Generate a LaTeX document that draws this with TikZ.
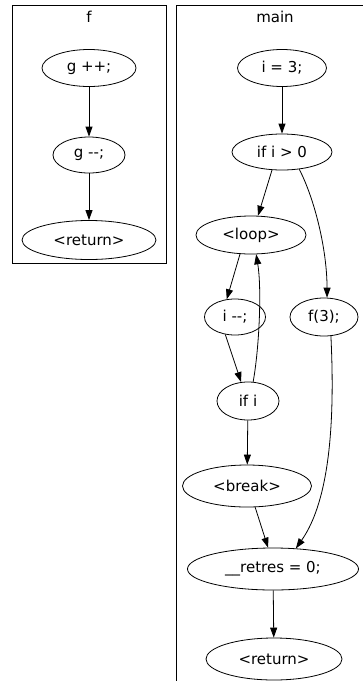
\documentclass[tikz,border=0pt]{standalone}
\usepackage{fontspec}
\setmainfont{DejaVu Sans}
\usetikzlibrary{shapes.geometric,arrows.meta}

\begin{document}
\begin{tikzpicture}[x=1pt,y=-1pt,font=\fontsize{15}{17}\selectfont]
		\tikzstyle{stmt}=[ellipse,draw=black,line width=0.8pt,inner sep=0pt]
		\tikzstyle{flow}=[-{Triangle[length=10pt,width=7pt]},line width=0.8pt]
		\tikzstyle{cluster}=[draw=black,line width=0.8pt]

		\clip (0,0) rectangle (363,681);

			% Draw the two clusters
		\draw[cluster] (12,5) rectangle (166,263);
		\draw[cluster] (176,5) rectangle (400,720);
		\node (f-title) at (89,17) {f};
		\node (main-title) at (275,17) {main};

			% Nodes of f
		\node[stmt,minimum width=94pt,minimum height=37pt] (gpp) at (89,68) {g ++;};
		\node[stmt,minimum width=72pt,minimum height=36pt] (gmm) at (89,155) {g -{}-;};
		\node[stmt,minimum width=134pt,minimum height=39pt] (f-ret) at (89,240) {<return>};

			% Nodes of main
		\node[stmt,minimum width=89pt,minimum height=37pt] (iset) at (282,68) {i = 3;};
		\node[stmt,minimum width=100pt,minimum height=36pt] (ifgt) at (282,152) {if i > 0};
		\node[stmt,minimum width=110pt,minimum height=38pt] (loop) at (251,235) {<loop>};
		\node[stmt,minimum width=61pt,minimum height=36pt] (idec) at (235,317) {i -{}-;};
		\node[stmt,minimum width=68pt,minimum height=38pt] (fcall) at (324,317) {f(3);};
		\node[stmt,minimum width=62pt,minimum height=38pt] (ifi) at (248,401) {if i};
		\node[stmt,minimum width=129pt,minimum height=42pt] (brk) at (247,486) {<break>};
		\node[stmt,minimum width=171pt,minimum height=42pt] (retres) at (273,569) {\_\_retres = 0;};
		\node[stmt,minimum width=136pt,minimum height=42pt] (m-ret) at (274,659) {<return>};

			% Edges in f
		\draw[flow] (gpp) -- (gmm);
		\draw[flow] (gmm) -- (f-ret);

			% Edges in main
		\draw[flow] (iset) -- (ifgt);
		\draw[flow] (ifgt.241) -- (loop.70);
		\draw[flow] (ifgt.-45) .. controls (315,200) and (327,250) .. (fcall.81);
		\draw[flow] (loop.240) -- (idec.115);
		\draw[flow] (idec.241) -- (ifi.110);
		\draw[flow] (ifi.75) .. controls (259,350) and (262,290) .. (loop.-75);
		\draw[flow] (ifi) -- (brk);
		\draw[flow] (brk.-69) -- (retres.103);
		\draw[flow] (fcall.-70) .. controls (335,420) and (330,500) .. (retres.42);
		\draw[flow] (retres) -- (m-ret);
\end{tikzpicture}
\end{document}
